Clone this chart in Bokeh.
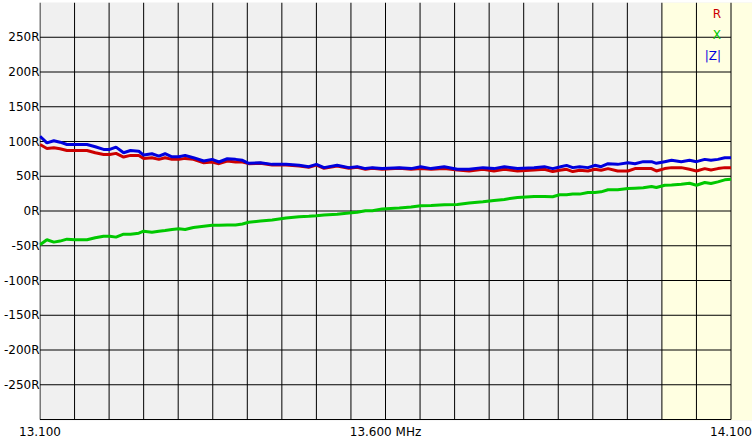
from bokeh.plotting import figure
from bokeh.models import Range1d, FixedTicker, Label
from bokeh.embed import file_html
from bokeh.resources import INLINE

# ---- data ----
freq = [13.100, 13.110, 13.120, 13.129, 13.139, 13.151, 13.168, 13.180, 13.192, 13.201,
        13.210, 13.221, 13.231, 13.243, 13.250, 13.262, 13.272, 13.281, 13.291, 13.301,
        13.310, 13.322, 13.337, 13.349, 13.359, 13.371, 13.383, 13.393, 13.402, 13.419,
        13.436, 13.456, 13.475, 13.489, 13.500, 13.511, 13.530, 13.547, 13.559, 13.571,
        13.581, 13.595, 13.620, 13.637, 13.651, 13.666, 13.685, 13.704, 13.721, 13.741,
        13.757, 13.772, 13.791, 13.815, 13.830, 13.842, 13.852, 13.862, 13.871, 13.881,
        13.893, 13.903, 13.912, 13.922, 13.936, 13.951, 13.961, 13.973, 13.985, 13.992,
        14.004, 14.014, 14.028, 14.040, 14.050, 14.062, 14.071, 14.081, 14.091, 14.100]

r_vals = [95.7, 90.0, 91.0, 89.5, 87.1, 87.1, 87.1, 83.8, 81.4, 81.4,
          82.9, 77.6, 80.0, 80.0, 75.7, 76.7, 74.3, 76.7, 74.3, 74.3,
          75.7, 74.3, 69.5, 70.5, 68.1, 71.9, 70.5, 70.5, 68.1, 68.6,
          66.2, 66.2, 64.8, 63.0, 66.0, 61.5, 64.8, 61.5, 62.9, 60.0,
          61.5, 60.0, 61.5, 60.0, 61.0, 60.0, 61.0, 59.0, 57.6, 60.0,
          57.6, 60.0, 57.6, 59.0, 60.0, 56.7, 58.6, 60.0, 56.7, 58.6,
          57.6, 60.0, 58.6, 61.0, 57.6, 57.6, 61.0, 61.0, 61.0, 57.6,
          61.0, 62.4, 62.4, 60.0, 57.6, 61.0, 59.0, 61.0, 62.4, 62.4]

x_vals = [-48.6, -41.4, -44.8, -43.3, -40.5, -41.4, -41.4, -38.6, -36.2, -36.2,
          -37.6, -33.3, -33.3, -32.0, -29.0, -30.5, -29.0, -28.0, -26.5, -25.7,
          -26.5, -23.8, -21.9, -20.5, -20.5, -20.0, -20.0, -18.6, -16.2, -14.3,
          -12.9, -10.0, -8.1, -7.5, -6.7, -5.7, -4.8, -2.9, -1.9, 0.5,
          0.5, 2.9, 4.3, 5.7, 7.6, 8.0, 9.0, 9.5, 11.4, 13.3,
          15.2, 16.7, 19.5, 21.0, 21.0, 20.5, 23.3, 23.3, 24.3, 24.3,
          26.7, 26.7, 27.6, 30.5, 30.5, 32.4, 32.9, 33.5, 35.2, 33.8,
          37.1, 37.5, 38.6, 40.0, 37.1, 41.0, 39.5, 41.9, 44.8, 45.7]

z_vals = [107.6, 98.0, 101.0, 99.0, 95.7, 95.7, 95.7, 92.4, 88.6, 88.6,
          91.9, 83.8, 87.0, 86.0, 80.5, 82.4, 79.0, 82.4, 78.0, 78.0,
          80.0, 76.7, 71.9, 74.3, 70.5, 75.2, 74.3, 72.9, 68.6, 69.5,
          67.1, 67.1, 65.7, 63.8, 67.1, 62.4, 65.7, 62.4, 63.8, 61.0,
          62.4, 61.0, 62.4, 61.0, 63.8, 61.0, 63.8, 60.0, 60.0, 62.4,
          61.0, 63.8, 61.0, 62.4, 63.8, 61.0, 63.3, 65.7, 62.4, 63.8,
          62.4, 65.7, 63.8, 68.1, 67.1, 69.5, 68.1, 71.0, 71.0, 68.6,
          71.0, 72.9, 71.0, 72.9, 71.0, 74.3, 72.9, 74.3, 76.7, 76.7]

y_ticks = [-250, -200, -150, -100, -50, 0, 50, 100, 150, 200, 250]
y_tick_labels = ["-250R", "-200R", "-150R", "-100R", "-50R", "0R",
                 "50R", "100R", "150R", "200R", "250R"]
x_ticks = [13.1, 13.6, 14.1]
x_tick_labels = ["13.100", "13.600 MHz", "14.100"]
legend_names = ["R", "X", "|Z|"]
legend_y = [283, 253, 223]

f_start, f_end, f_step = 13.1, 14.1, 0.05
band_start = 14.0
y_min, y_max = -300, 300

# ---- layout ----
W, H = 752, 441
ML, MT, MB = 39, 2, 18
frame_w = W - ML
frame_h = H - MT - MB
px_per_mhz = 691.0
px_per_r = 0.7
xs = f_start - 0.5 / px_per_mhz
xe = xs + frame_w / px_per_mhz
ys = y_max - frame_h / px_per_r

C_R, C_X, C_Z = "#cc0000", "#00c800", "#0000dd"
FONT = "DejaVu Sans"
FS = "12px"

p = figure(width=W, height=H, output_backend="svg", toolbar_location=None,
           x_range=Range1d(xs, xe), y_range=Range1d(ys, y_max),
           min_border_left=ML, min_border_right=0, min_border_top=MT,
           min_border_bottom=MB)
p.background_fill_color = "#f0f0f0"
p.border_fill_color = "white"
p.outline_line_color = None
p.grid.visible = False

# yellow band
p.quad(left=[band_start], right=[xe], bottom=[ys], top=[y_max],
       fill_color="#ffffe1", line_color=None)

# grid (drawn manually so that it stops at the frame border)
n_v = int(round((f_end - f_start) / f_step)) + 1
vx = [f_start + i * f_step for i in range(n_v)]
p.segment(x0=vx, y0=[y_min] * n_v, x1=vx, y1=[y_max] * n_v,
          line_color="black", line_width=1)
hy = [y_min] + y_ticks
p.segment(x0=[f_start] * len(hy), y0=hy, x1=[f_end] * len(hy), y1=hy,
          line_color="black", line_width=1)

# curves
p.line(freq, x_vals, line_color=C_X, line_width=3)
p.line(freq, r_vals, line_color=C_R, line_width=3)
p.line(freq, z_vals, line_color=C_Z, line_width=3)

# axes
for ax in (p.xaxis[0], p.yaxis[0]):
    ax.axis_line_color = None
    ax.major_tick_line_color = None
    ax.minor_tick_line_color = None
    ax.major_tick_out = 0
    ax.major_tick_in = 0
    ax.minor_tick_out = 0
    ax.minor_tick_in = 0
    ax.major_label_text_font = FONT
    ax.major_label_text_font_size = FS
    ax.major_label_text_color = "black"

p.yaxis[0].major_label_standoff = 0
p.yaxis[0].ticker = FixedTicker(ticks=y_ticks)
p.yaxis[0].major_label_overrides = {t: l for t, l in zip(y_ticks, y_tick_labels)}
p.xaxis[0].ticker = FixedTicker(ticks=x_ticks)
p.xaxis[0].major_label_overrides = {t: l for t, l in zip(x_ticks, x_tick_labels)}
p.xaxis[0].major_label_standoff = 4

# legend texts
leg_x = f_start + 681.0 / px_per_mhz
for name, col, yv in zip(legend_names, [C_R, C_X, C_Z], legend_y):
    p.add_layout(Label(x=leg_x, y=yv, text=name, text_align="right",
                       text_baseline="middle", text_color=col,
                       text_font=FONT, text_font_size=FS))

open("out.html", "w").write(file_html(p, INLINE))
